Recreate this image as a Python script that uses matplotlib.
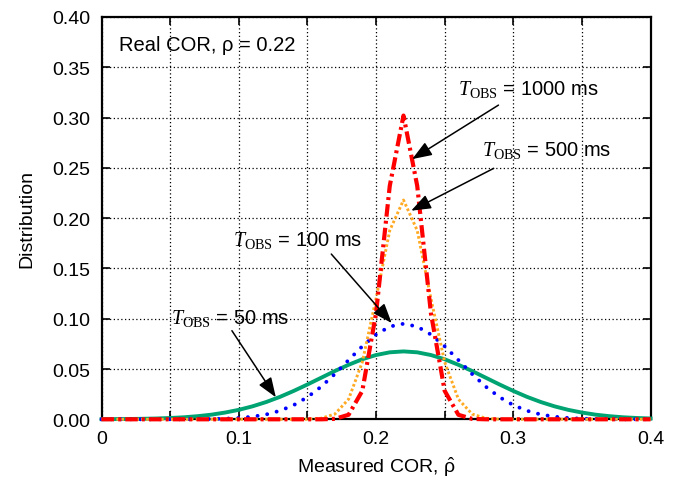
import matplotlib.pyplot as plt
import numpy as np
from matplotlib.ticker import MultipleLocator

plt.rcParams['font.family'] = ['Liberation Sans', 'DejaVu Sans']
plt.rcParams['mathtext.fontset'] = 'custom'
plt.rcParams['mathtext.rm'] = 'Liberation Serif'
plt.rcParams['mathtext.it'] = 'Liberation Serif:italic'
plt.rcParams['mathtext.sf'] = 'Liberation Sans'

# --- Data ---
# measured correlation coefficient, sampled every 0.01
rho_hat = np.linspace(0, 0.4, 41)

dist_50ms = [0.0001, 0.0002, 0.0003, 0.0005, 0.0008, 0.0013, 0.0020, 0.0031, 0.0046, 0.0067,
             0.0094, 0.0129, 0.0172, 0.0223, 0.0282, 0.0346, 0.0413, 0.0480, 0.0542, 0.0597,
             0.0639, 0.0666, 0.0675, 0.0666, 0.0639, 0.0597, 0.0542, 0.0480, 0.0413, 0.0346,
             0.0282, 0.0223, 0.0172, 0.0129, 0.0094, 0.0067, 0.0046, 0.0031, 0.0020, 0.0013,
             0.0008]
dist_100ms = [0, 0, 0, 0, 0, 0, 0, 0.0001, 0.0003, 0.0006,
              0.0013, 0.0026, 0.0048, 0.0085, 0.0141, 0.0220, 0.0324, 0.0450, 0.0589, 0.0726,
              0.0843, 0.0922, 0.0950, 0.0922, 0.0843, 0.0726, 0.0589, 0.0450, 0.0324, 0.0220,
              0.0141, 0.0085, 0.0048, 0.0026, 0.0013, 0.0006, 0.0003, 0.0001, 0, 0,
              0]
dist_500ms = [0, 0, 0, 0, 0, 0, 0, 0, 0, 0,
              0, 0, 0, 0, 0, 0.0001, 0.0010, 0.0052, 0.0200, 0.0569,
              0.1200, 0.1878, 0.2180, 0.1878, 0.1200, 0.0569, 0.0200, 0.0052, 0.0010, 0.0001,
              0, 0, 0, 0, 0, 0, 0, 0, 0, 0,
              0]
dist_1000ms = [0, 0, 0, 0, 0, 0, 0, 0, 0, 0,
               0, 0, 0, 0, 0, 0, 0, 0.0004, 0.0045, 0.0283,
               0.1054, 0.2321, 0.3020, 0.2321, 0.1054, 0.0283, 0.0045, 0.0004, 0, 0,
               0, 0, 0, 0, 0, 0, 0, 0, 0, 0,
               0]

# --- Figure ---
fig = plt.figure(figsize=(6.8, 4.85), dpi=100)
ax = fig.add_axes([0.1493, 0.1334, 0.8074, 0.8295])

ax.plot(rho_hat, dist_50ms, color='#00a372', lw=2.8, zorder=3, clip_on=False)
ax.plot(rho_hat, dist_100ms, color='#0000ff', lw=2.8, linestyle=(0, (0.01, 2.5)),
        dash_capstyle='round', zorder=3, clip_on=False)
ax.plot(rho_hat, dist_500ms, color='#ffaa22', lw=2.1, linestyle=(0, (0.9, 0.8)),
        zorder=3, clip_on=False)
ax.plot(rho_hat, dist_1000ms, color='#ff0000', lw=3.0, linestyle=(0, (3.0, 1.0, 0.7, 1.0)),
        zorder=4, clip_on=False)

ax.set_xlim(0, 0.4)
ax.set_ylim(0, 0.4)
ax.xaxis.set_major_locator(MultipleLocator(0.1))
ax.xaxis.set_minor_locator(MultipleLocator(0.05))
ax.yaxis.set_major_locator(MultipleLocator(0.05))
ax.xaxis.set_major_formatter(lambda v, pos: '0' if abs(v) < 1e-9 else f'{v:.1f}')
ax.yaxis.set_major_formatter(lambda v, pos: f'{v:.2f}')

ax.grid(True, which='both', linestyle=(0, (1, 2)), color='black', lw=0.9)
ax.set_axisbelow(True)
ax.tick_params(which='both', direction='in', top=True, right=True, length=6, width=1.2,
               labelsize=14)
ax.tick_params(axis='x', pad=8)
ax.tick_params(axis='y', pad=8)
for sp in ax.spines.values():
    sp.set_linewidth(1.6)

ax.set_xlabel(r'Measured COR, $\hat{\mathsf{\rho}}$', fontsize=14, labelpad=5)
ax.set_ylabel('Distribution', fontsize=14, labelpad=12)

ax.text(0.0126, 0.373, 'Real COR, ρ = 0.22', fontsize=14.5, va='center', ha='left')

# annotation labels: (text, text position, arrow start, arrow tip)
notes = [
    (r'$T_{\rm OBS}$ = 1000 ms', (0.2595, 0.329), (0.2892, 0.3124), (0.2263, 0.2587)),
    (r'$T_{\rm OBS}$ = 500 ms', (0.2769, 0.2687), (0.2857, 0.2495), (0.2256, 0.2074)),
    (r'$T_{\rm OBS}$ = 100 ms', (0.0957, 0.1792), (0.1674, 0.1643), (0.2114, 0.0957)),
    (r'$T_{\rm OBS}$ = 50 ms', (0.0506, 0.1014), (0.0950, 0.0881), (0.1270, 0.0219)),
]
for label, txt_pos, start, tip in notes:
    ax.text(txt_pos[0], txt_pos[1], label, fontsize=14.5, va='center', ha='left', zorder=6)
    ax.annotate('', xy=tip, xytext=start,
                arrowprops=dict(arrowstyle='-|>,head_length=1.2,head_width=0.45',
                                color='black', lw=1.1, shrinkA=0, shrinkB=0),
                zorder=6)

fig.savefig('out.png', dpi=100)
